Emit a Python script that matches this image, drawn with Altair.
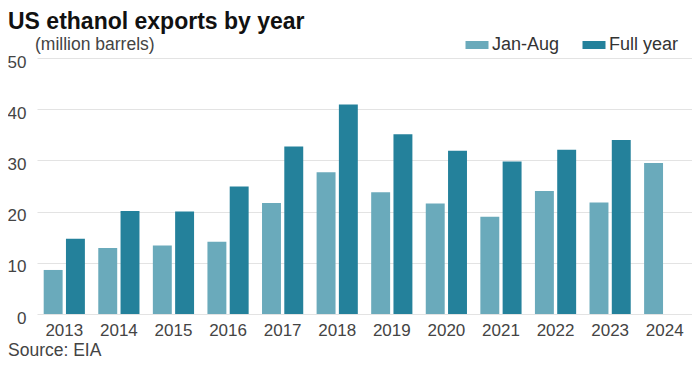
import altair as alt
import pandas as pd

years = ["2013", "2014", "2015", "2016", "2017", "2018", "2019", "2020", "2021", "2022", "2023", "2024"]
jan_aug = [8.6, 12.9, 13.4, 14.1, 21.7, 27.7, 23.8, 21.6, 19.0, 24.0, 21.8, 29.5]
full_year = [14.7, 20.1, 20.0, 24.9, 32.7, 40.9, 35.1, 31.9, 29.8, 32.1, 34.0, None]
series = ["Jan-Aug", "Full year"]
colors = ["#6aaabb", "#24819b"]
y_ticks = [0, 10, 20, 30, 40, 50]

rows = []
for i, yr in enumerate(years):
    if jan_aug[i] is not None:
        rows.append({"year": yr, "series": series[0], "value": jan_aug[i]})
    if full_year[i] is not None:
        rows.append({"year": yr, "series": series[1], "value": full_year[i]})
df = pd.DataFrame(rows)

FONT = "Liberation Sans"
W, H = 655, 256
PL, PT = 29, 50

bars = alt.Chart(df).mark_bar().encode(
    x=alt.X("year:N", sort=years, title=None,
            scale=alt.Scale(paddingInner=0.245, paddingOuter=0.1225),
            axis=alt.Axis(labelAngle=0, domain=False, ticks=False, labelPadding=8,
                          labelFontSize=17, labelColor="#444", labelFont=FONT)),
    xOffset=alt.XOffset("series:N", sort=series,
                        scale=alt.Scale(paddingInner=0.15, paddingOuter=0)),
    y=alt.Y("value:Q", title=None,
            scale=alt.Scale(domain=[0, 50], nice=False),
            axis=alt.Axis(values=y_ticks, domain=False, ticks=False, labelPadding=11,
                          labelOffset=4, labelFontSize=17, labelColor="#444",
                          labelFont=FONT, gridColor="#e3e3e3", gridWidth=1)),
    color=alt.Color("series:N", sort=series,
                    scale=alt.Scale(domain=series, range=colors),
                    legend=alt.Legend(title=None, orient="none", direction="horizontal",
                                      legendX=430, legendY=-23, padding=0,
                                      symbolType="M-1.15,-0.4H1.15V0.4H-1.15Z",
                                      symbolSize=400, symbolStrokeWidth=0,
                                      symbolOpacity=1, labelFontSize=18,
                                      labelColor="#333", labelFont=FONT,
                                      labelOffset=5, columnPadding=22)),
)

def text_layer(txt, x, y, size, weight="normal", color="#333"):
    return alt.Chart(pd.DataFrame({"t": [txt]})).mark_text(
        align="left", baseline="alphabetic", fontSize=size, fontWeight=weight,
        font=FONT, color=color
    ).encode(text="t:N", x=alt.value(x), y=alt.value(y))

title = text_layer("US ethanol exports by year", -PL, -29, 23, "bold", "#111")
subtitle = text_layer("(million barrels)", -2, -8, 17.5, "normal", "#444")
source = text_layer("Source: EIA", -PL, 298, 17.5, "normal", "#444")

chart = alt.layer(bars, title, subtitle, source).properties(
    width=W, height=H,
    autosize=alt.AutoSizeParams(type="none"),
    padding={"left": PL, "top": PT, "right": 0, "bottom": 47},
).configure_view(stroke=None)

chart.save("out.html", embed_options={"renderer": "svg", "actions": False})
